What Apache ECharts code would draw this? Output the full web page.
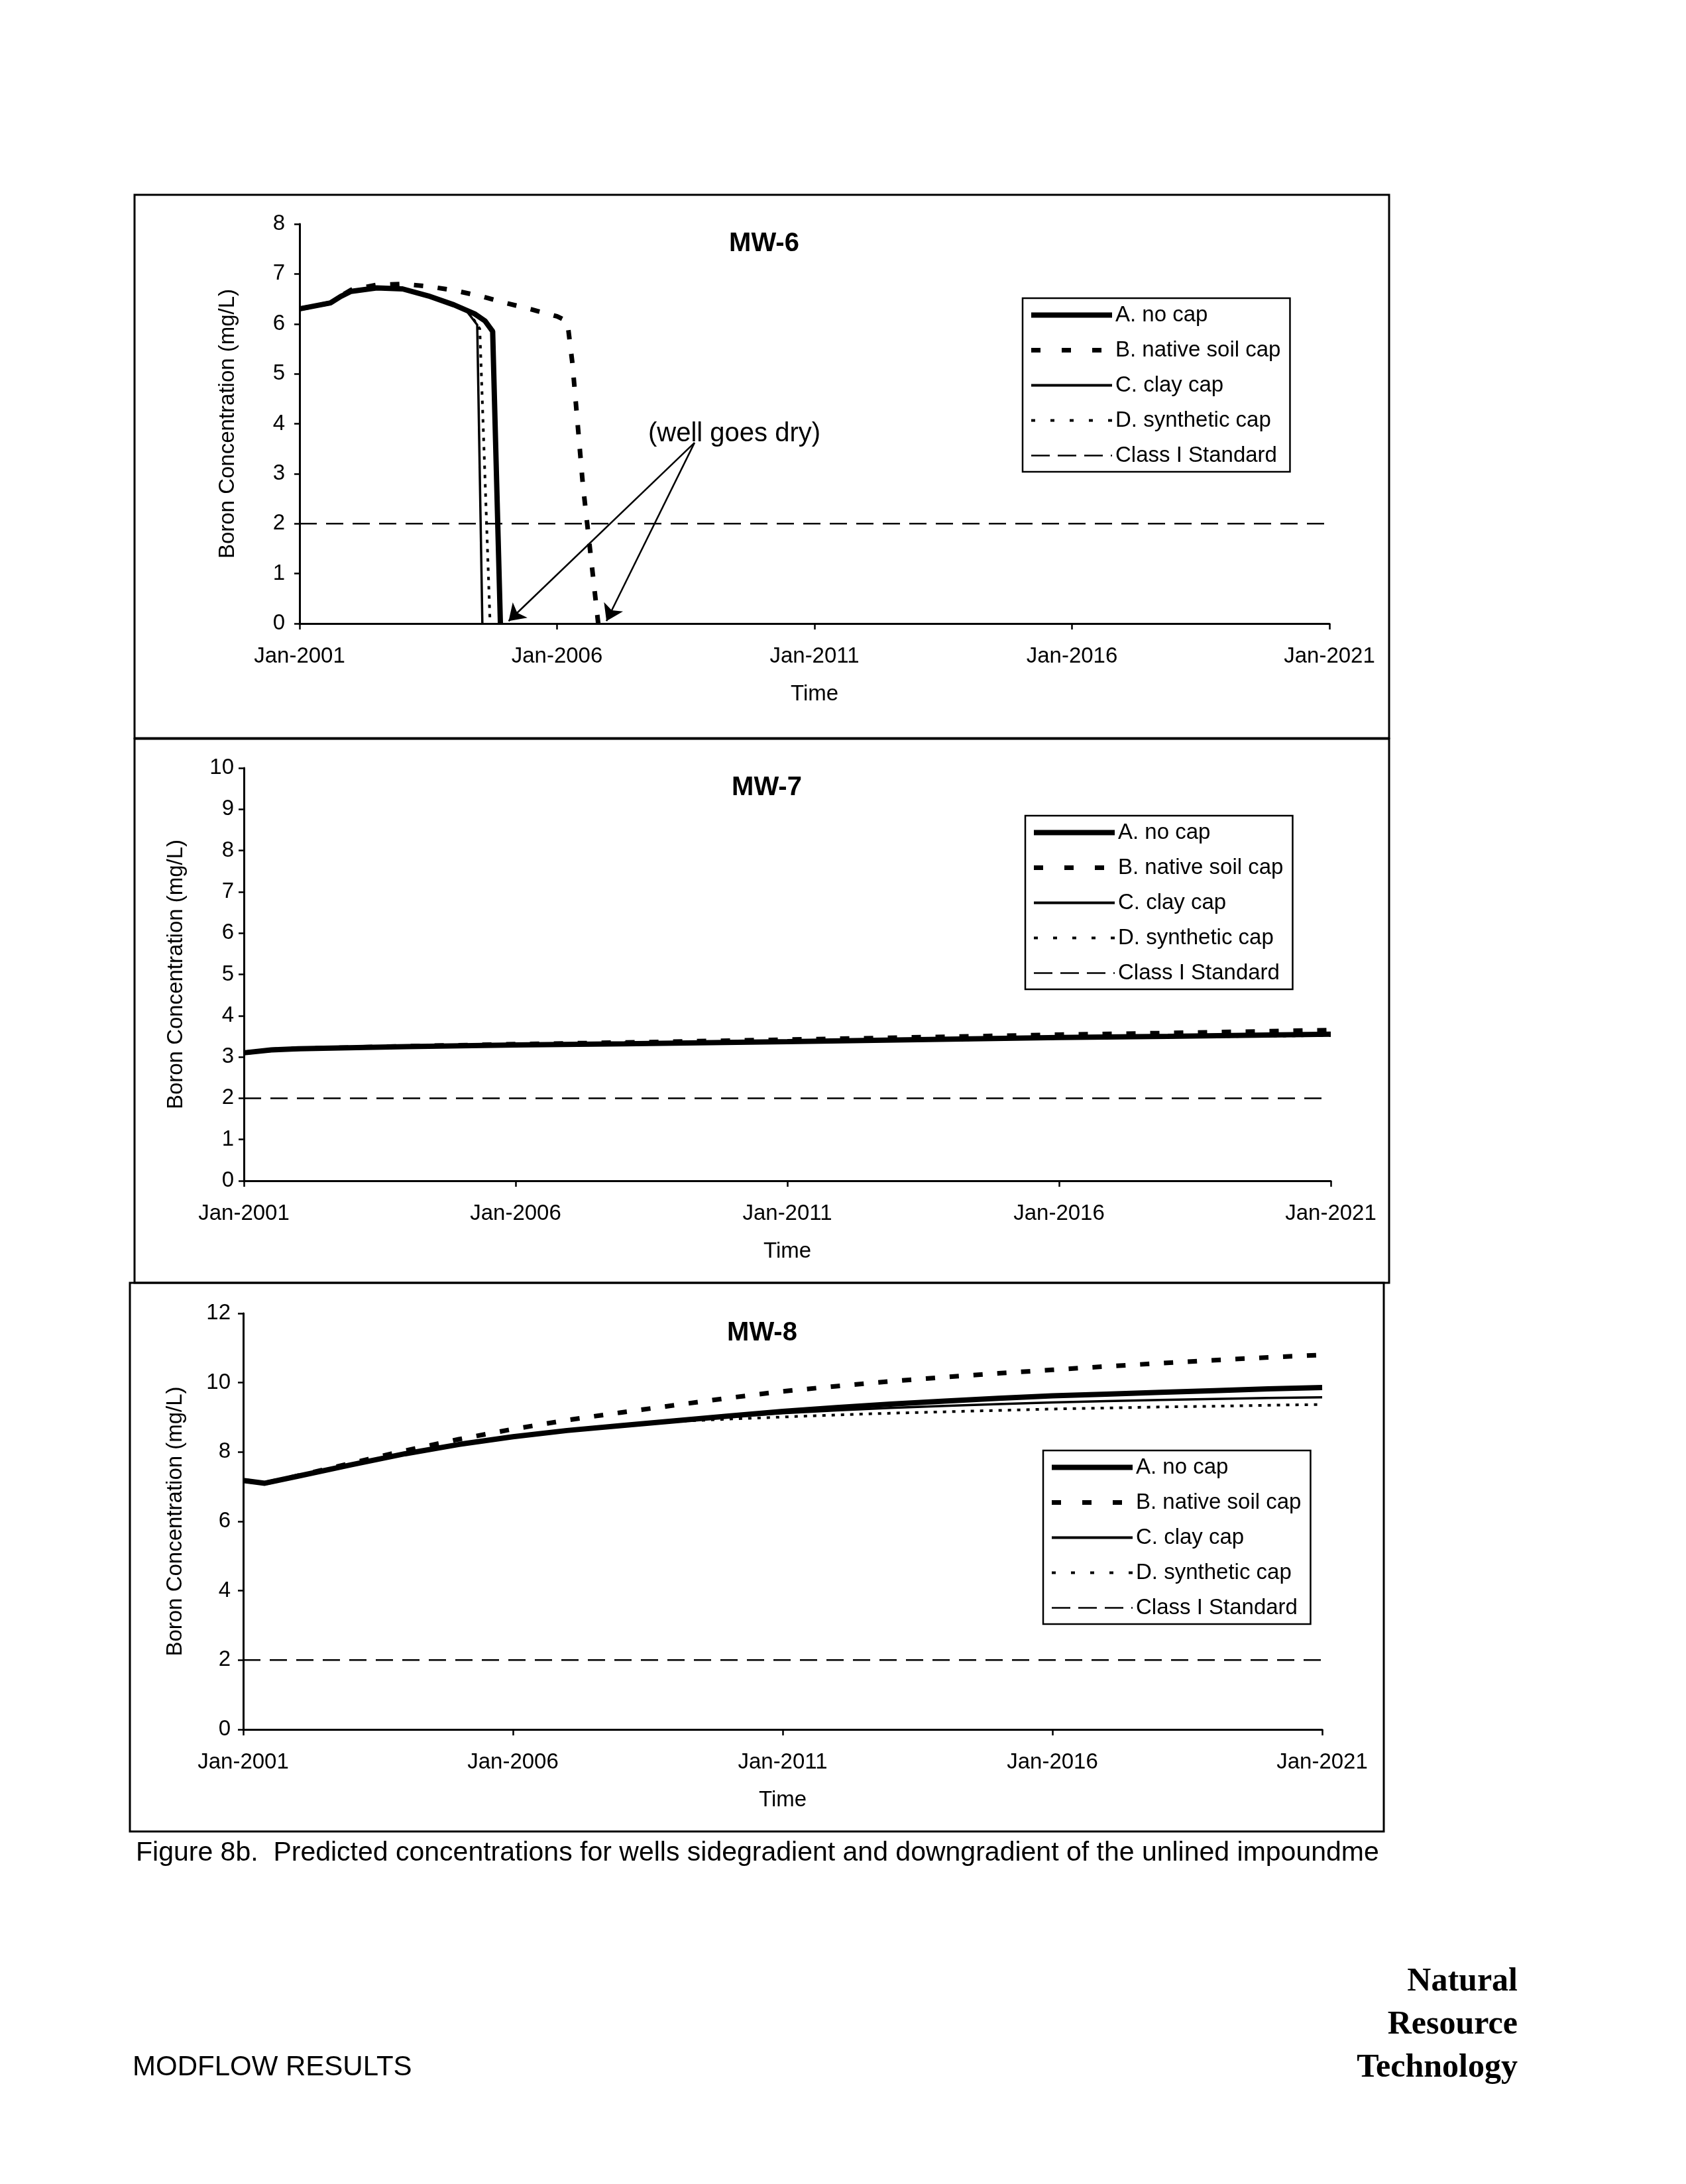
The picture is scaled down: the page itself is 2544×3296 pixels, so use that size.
<!DOCTYPE html>
<html><head><meta charset="utf-8">
<script src="https://cdn.jsdelivr.net/npm/echarts@6/dist/echarts.min.js"></script>
<style>html,body{margin:0;padding:0;background:#fff}#c{width:2544px;height:3296px}</style>
</head><body><div id="c"></div>
<script>
// ---------------- data ----------------
const seriesNames = ['A. no cap', 'B. native soil cap', 'C. clay cap', 'D. synthetic cap', 'Class I Standard'];
const panelTitles = ['MW-6', 'MW-7', 'MW-8'];
const xTickYears = [2001, 2006, 2011, 2016, 2021];
const startYear = 2001;
const endYear = 2021;
const classIStandard = 2;

// MW-6: [year, mg/L]  (wells go dry -> concentration drops to 0)
const mw6NoCap = [[2001,6.30],[2001.3,6.36],[2001.6,6.42],[2001.8,6.55],[2002.0,6.65],[2002.5,6.72],[2003.0,6.70],[2003.5,6.56],[2004.0,6.38],[2004.4,6.20],[2004.6,6.06],[2004.75,5.85],[2004.9,0]];
const mw6NativeSoil = [[2001,6.30],[2001.3,6.36],[2001.6,6.42],[2001.8,6.56],[2002.0,6.68],[2002.5,6.78],[2003.0,6.80],[2003.5,6.75],[2004.0,6.67],[2004.5,6.56],[2005.0,6.42],[2005.5,6.29],[2006.0,6.15],[2006.2,6.05],[2006.3,5.2],[2006.5,2.8],[2006.8,0]];
const mw6Clay = [[2001,6.30],[2001.3,6.36],[2001.6,6.42],[2001.8,6.55],[2002.0,6.65],[2002.5,6.72],[2003.0,6.70],[2003.5,6.56],[2004.0,6.38],[2004.25,6.25],[2004.45,5.98],[2004.55,0]];
const mw6Synthetic = [[2001,6.30],[2001.3,6.36],[2001.6,6.42],[2001.8,6.55],[2002.0,6.65],[2002.5,6.72],[2003.0,6.70],[2003.5,6.56],[2004.0,6.38],[2004.3,6.22],[2004.5,5.90],[2004.7,0]];
const mw6ArrowFrom = [2008.67, 3.62];
const mw6ArrowTo = [[2005.06, 0.05], [2006.96, 0.05]];
const mw6Note = '(well goes dry)';

// MW-7
const mw7Years = [2001, 2001.5, 2002, 2004, 2006, 2008, 2011, 2014, 2016, 2018, 2021];
const mw7NoCap = [3.10, 3.17, 3.20, 3.25, 3.29, 3.32, 3.37, 3.43, 3.47, 3.50, 3.55];
const mw7NativeSoil = [3.10, 3.17, 3.20, 3.26, 3.31, 3.35, 3.42, 3.49, 3.54, 3.58, 3.65];
const mw7Clay = [3.10, 3.17, 3.20, 3.25, 3.29, 3.32, 3.37, 3.42, 3.46, 3.49, 3.53];
const mw7Synthetic = [3.10, 3.17, 3.20, 3.25, 3.29, 3.32, 3.36, 3.41, 3.45, 3.48, 3.52];

// MW-8
const mw8Years = [2001, 2001.4, 2002, 2003, 2004, 2005, 2006, 2007, 2008, 2009, 2010, 2011, 2012, 2013, 2014, 2015, 2016, 2017, 2018, 2019, 2020, 2021];
const mw8NoCap = [7.18, 7.10, 7.30, 7.63, 7.95, 8.22, 8.44, 8.62, 8.76, 8.90, 9.04, 9.17, 9.28, 9.38, 9.47, 9.55, 9.62, 9.67, 9.72, 9.77, 9.82, 9.86];
const mw8NativeSoil = [7.18, 7.10, 7.31, 7.68, 8.04, 8.37, 8.66, 8.92, 9.14, 9.35, 9.56, 9.75, 9.90, 10.04, 10.16, 10.27, 10.37, 10.47, 10.56, 10.65, 10.73, 10.80];
const mw8Clay = [7.18, 7.10, 7.30, 7.63, 7.95, 8.22, 8.44, 8.62, 8.76, 8.90, 9.01, 9.12, 9.20, 9.27, 9.33, 9.38, 9.43, 9.47, 9.50, 9.53, 9.56, 9.58];
const mw8Synthetic = [7.18, 7.10, 7.30, 7.63, 7.95, 8.22, 8.44, 8.62, 8.76, 8.88, 8.95, 9.01, 9.07, 9.12, 9.16, 9.20, 9.24, 9.27, 9.30, 9.32, 9.35, 9.37];

const yMax = [8, 10, 12];
const yInterval = [1, 1, 2];

const captionText = 'Figure 8b.  Predicted concentrations for wells sidegradient and downgradient of the unlined impoundme';
const footerLeft = 'MODFLOW RESULTS';
const footerRight = ['Natural', 'Resource', 'Technology'];

// ---------------- layout / style ----------------
const FONT = 'Liberation Sans, Arial, sans-serif';
const grids = [
  { left: 452, top: 338, width: 1554, height: 603 },
  { left: 368, top: 1159, width: 1640, height: 623 },
  { left: 367, top: 1982, width: 1628, height: 628 }
];
const legendPos = [ { left: 1543, top: 450 }, { left: 1547, top: 1231 }, { left: 1574, top: 2189 } ];
const titlePos = [ { x: 1148, y: 343 }, { x: 1152, y: 1164 }, { x: 1145, y: 1987 } ];
const yLabelMargin = [22, 15, 19];
const yNameGap = [92, 86, 86];
const frames = [
  { x: 203, y: 294, w: 1893, h: 820 },
  { x: 203, y: 1115, w: 1893, h: 821 },
  { x: 196, y: 1936, w: 1892, h: 828 }
];
const lineStyles = [
  { color: '#000', width: 8, type: 'solid' },
  { color: '#000', width: 7, type: [14, 22], cap: 'butt' },
  { color: '#000', width: 3.5, type: 'solid' },
  { color: '#000', width: 4, type: [5, 9], cap: 'butt' },
  { color: '#000', width: 2.5, type: [26, 14], cap: 'butt' }
];
const legendLineStyles = [
  { color: '#000', width: 8, type: 'solid' },
  { color: '#000', width: 7, type: [14, 32], cap: 'butt' },
  { color: '#000', width: 4, type: 'solid' },
  { color: '#000', width: 4, type: [6, 23], cap: 'butt' },
  { color: '#000', width: 2.5, type: [28, 12], cap: 'butt' }
];

const toX = y => +(y - startYear).toFixed(4);
const pairs = arr => arr.map(p => [toX(p[0]), p[1]]);
const zipY = (years, vals) => years.map((y, i) => [toX(y), vals[i]]);
const stdLine = [[toX(startYear), classIStandard], [toX(endYear), classIStandard]];

const panelData = [
  [pairs(mw6NoCap), pairs(mw6NativeSoil), pairs(mw6Clay), pairs(mw6Synthetic), stdLine],
  [zipY(mw7Years, mw7NoCap), zipY(mw7Years, mw7NativeSoil), zipY(mw7Years, mw7Clay), zipY(mw7Years, mw7Synthetic), stdLine],
  [zipY(mw8Years, mw8NoCap), zipY(mw8Years, mw8NativeSoil), zipY(mw8Years, mw8Clay), zipY(mw8Years, mw8Synthetic), stdLine]
];

const drawOrder = [4, 3, 2, 1, 0];
const series = [];
panelData.forEach((pd, gi) => {
  drawOrder.forEach(si => {
    const s = {
      type: 'line', name: seriesNames[si], xAxisIndex: gi, yAxisIndex: gi,
      data: pd[si], symbol: 'none', showSymbol: false, smooth: false,
      lineStyle: lineStyles[si], z: 3 + (4 - si), silent: true
    };
    if (gi === 0 && si === 4) {
      s.markLine = {
        silent: true, symbol: ['none', 'arrow'], symbolSize: 24,
        label: { show: false },
        lineStyle: { color: '#000', width: 2.5, type: 'solid' },
        data: mw6ArrowTo.map(t => [
          { coord: [toX(mw6ArrowFrom[0]), mw6ArrowFrom[1]] },
          { coord: [toX(t[0]), t[1]] }
        ])
      };
    }
    series.push(s);
  });
});

const axisLineStyle = { lineStyle: { color: '#000', width: 3 } };
const xAxes = grids.map((g, gi) => ({
  type: 'value', gridIndex: gi, min: 0, max: endYear - startYear, interval: 5,
  axisLine: axisLineStyle, axisTick: { show: true, length: 9, inside: false, lineStyle: { color: '#000', width: 2.5 } },
  splitLine: { show: false },
  axisLabel: { margin: 33, fontSize: 33, color: '#000', fontFamily: FONT,
    formatter: v => 'Jan-' + xTickYears[Math.round(v / 5)] },
  name: 'Time', nameLocation: 'middle', nameGap: 90,
  nameTextStyle: { fontSize: 33, color: '#000', fontFamily: FONT }
}));
const yAxes = grids.map((g, gi) => ({
  type: 'value', gridIndex: gi, min: 0, max: yMax[gi], interval: yInterval[gi],
  axisLine: { show: true, lineStyle: { color: '#000', width: 3 } },
  axisTick: { show: true, length: 8, lineStyle: { color: '#000', width: 2.5 } },
  splitLine: { show: false },
  axisLabel: { margin: yLabelMargin[gi], fontSize: 33, color: '#000', fontFamily: FONT },
  name: 'Boron Concentration (mg/L)', nameLocation: 'middle', nameGap: yNameGap[gi],
  nameTextStyle: { fontSize: 33, color: '#000', fontFamily: FONT }
}));

const legends = legendPos.map(lp => ({
  orient: 'vertical', left: lp.left, top: lp.top,
  itemWidth: 122, itemHeight: 20, itemGap: 20,
  padding: [9, 14, 8, 9], borderColor: '#000', borderWidth: 2.5, backgroundColor: '#fff',
  selectedMode: false,
  data: seriesNames.map((n, i) => ({ name: n, lineStyle: legendLineStyles[i] })),
  textStyle: { fontSize: 33, color: '#000', fontFamily: FONT, lineHeight: 32 },
  itemStyle: { opacity: 0 }
}));

const titles = titlePos.map((tp, i) => ({
  text: panelTitles[i], left: tp.x, top: tp.y, textAlign: 'center',
  textStyle: { fontSize: 40, fontWeight: 'bold', color: '#000', fontFamily: FONT }
}));

const graphic = [];
frames.forEach(f => graphic.push({
  type: 'rect', shape: { x: f.x, y: f.y, width: f.w, height: f.h },
  style: { fill: 'none', stroke: '#000', lineWidth: 3 }, z: -1, silent: true
}));
graphic.push({ type: 'text', x: 1108, y: 655, style: { text: mw6Note, font: '40px ' + FONT, fill: '#000', textAlign: 'center', textVerticalAlign: 'middle' }, z: 10 });
graphic.push({ type: 'text', x: 205, y: 2797, style: { text: captionText, font: '41px ' + FONT, fill: '#000', textAlign: 'left', textVerticalAlign: 'middle' } });
graphic.push({ type: 'text', x: 200, y: 3120, style: { text: footerLeft, font: '42px ' + FONT, fill: '#000', textAlign: 'left', textVerticalAlign: 'middle' } });
const footerRightY = [2991, 3056, 3121];
footerRight.forEach((t, i) => graphic.push({ type: 'text', x: 2290, y: footerRightY[i], style: { text: t, font: 'bold 50px Liberation Serif, Times New Roman, serif', fill: '#000', textAlign: 'right', textVerticalAlign: 'middle' } }));

const chart = echarts.init(document.getElementById('c'), null, { renderer: 'canvas' });
chart.setOption({
  backgroundColor: '#fff', animation: false,
  title: titles, legend: legends, grid: grids,
  xAxis: xAxes, yAxis: yAxes, series: series, graphic: graphic
});
</script></body></html>
